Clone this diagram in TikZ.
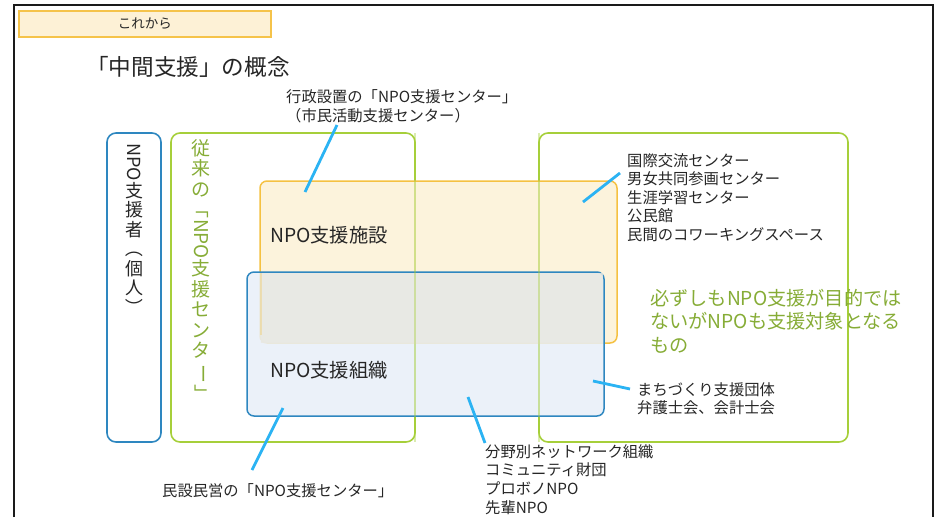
\documentclass[tikz,border=0pt]{standalone}
\usepackage{fontspec}
\setmainfont{Noto Sans CJK JP}
\definecolor{frameC}{HTML}{1A1A1A}
\definecolor{hdrF}{HTML}{FDF1D6}
\definecolor{hdrB}{HTML}{F5C34A}
\definecolor{orgF}{HTML}{FCF1D6}
\definecolor{orgB}{HTML}{F5C142}
\definecolor{bluF}{HTML}{E8EFF8}
\definecolor{bluB}{HTML}{2E87C0}
\definecolor{ovlF}{HTML}{E8E8E2}
\definecolor{grnB}{HTML}{A6CF3A}
\definecolor{grnT}{HTML}{86AC36}
\definecolor{callC}{HTML}{2BB3F3}
\definecolor{txtC}{HTML}{262626}
\newcommand\vrot[1]{\rotatebox[origin=c]{-90}{#1}}
\tikzset{
  sbox/.style={inner sep=0pt, outer sep=0pt, line width=1.6pt, rounded corners=9pt},
  callout/.style={draw=callC, line width=2.8pt},
  lbl/.style={text=txtC, font=\fontsize{15.3}{19.5}\selectfont, align=left, inner sep=0pt, anchor=north west},
  bigl/.style={text=txtC, font=\fontsize{19.3}{23}\selectfont, inner sep=0pt, anchor=west},
  vtext/.style={align=center, inner sep=0pt, anchor=north},
}
\begin{document}
\begin{tikzpicture}[x=1pt,y=-1pt]
\useasboundingbox (0,0) rectangle (941,517);
% frame
\draw[frameC, line width=2pt] (14,517) -- (14,5) -- (933,5) -- (933,517);
% header
\node[draw=hdrB, fill=hdrF, line width=1.5pt, minimum width=252pt, minimum height=26pt, inner sep=0pt, anchor=north west, font=\fontsize{13.5}{13.5}\selectfont, text=txtC] (hdr) at (18,10) {これから};
% title
\node[text=txtC, font=\fontsize{22.6}{25}\selectfont, inner sep=0pt, anchor=west] (title) at (86,67) {「中間支援」の概念};
% big boxes
\node[sbox, draw=bluB, minimum width=54pt, minimum height=309pt] (person) at (134,287.5) {};
\node[sbox, draw=grnB, minimum width=244pt, minimum height=309pt] (oldc) at (293,287.5) {};
\node[sbox, draw=grnB, minimum width=309pt, minimum height=309pt] (other) at (693.5,287.5) {};
% facilities & orgs
\node[sbox, rounded corners=7pt, draw=orgB, fill=orgF, fill opacity=0.85, line width=1.5pt, minimum width=357pt, minimum height=162pt] (fac) at (438.5,262) {};
\node[sbox, rounded corners=7pt, draw=bluB, fill=bluF, fill opacity=0.85, line width=1.5pt, minimum width=357pt, minimum height=144pt] (org) at (425.5,344) {};
\begin{scope}
  \clip (260.75,181.75) rectangle (616.25,342.25);
  \fill[ovlF, opacity=0.85] (247.75,272.75) rectangle (603.25,415.25);
\end{scope}
\draw[orgB, line width=1.5pt, opacity=0.3] (260.75,272.75) -- (260.75,335);
\draw[grnB, line width=1.6pt, opacity=0.4] (oldc.north east) -- (oldc.south east);
\draw[grnB, line width=1.6pt, opacity=0.4] (other.north west) -- (other.south west);
% vertical texts
\node[vtext, text=txtC, font=\fontsize{18}{19.5}\selectfont] (persontxt) at (134,143) {\vrot{NPO}\\支\\援\\者\\\vrot{（}\\個\\人\\\vrot{）}};
\node[vtext, text=grnT, font=\fontsize{19}{20.5}\selectfont] (oldtxt) at (201,139) {従\\来\\の\\\vrot{「}\\\vrot{NPO}\\支\\援\\セ\\ン\\タ\\\vrot{ー}\\\vrot{」}};
% box labels
\node[bigl] (factxt) at (270,235) {NPO支援施設};
\node[bigl] (orgtxt) at (270,370) {NPO支援組織};
\node[text=grnT, font=\fontsize{19.2}{23.5}\selectfont, align=left, inner sep=0pt, anchor=north west] (othertxt) at (650,289) {必ずしもNPO支援が目的では\\ないがNPOも支援対象となる\\もの};
% callout labels
\node[lbl] (l1) at (286,89) {行政設置の「NPO支援センター」\\（市民活動支援センター）};
\node[lbl, font=\fontsize{15.3}{18.5}\selectfont] (l2) at (627,153) {国際交流センター\\男女共同参画センター\\生涯学習センター\\公民館\\民間のコワーキングスペース};
\node[lbl, font=\fontsize{15.3}{18.5}\selectfont] (l3) at (637,382) {まちづくり支援団体\\弁護士会、会計士会};
\node[lbl, font=\fontsize{15.3}{18.7}\selectfont] (l4) at (485,444) {分野別ネットワーク組織\\コミュニティ財団\\プロボノNPO\\先輩NPO};
\node[lbl] (l5) at (162,483) {民設民営の「NPO支援センター」};
% callouts
\coordinate (c1a) at (305,192); \coordinate (c1b) at (337,125);
\coordinate (c2a) at (583,202); \coordinate (c2b) at (620,173);
\coordinate (c3a) at (593,381); \coordinate (c3b) at (630,389);
\coordinate (c4a) at (468,397); \coordinate (c4b) at (485,443);
\coordinate (c5a) at (283,408); \coordinate (c5b) at (252,470);
\draw[callout] (c1a) -- (c1b);
\draw[callout] (c2a) -- (c2b);
\draw[callout] (c3a) -- (c3b);
\draw[callout] (c4a) -- (c4b);
\draw[callout] (c5a) -- (c5b);
\end{tikzpicture}
\end{document}
